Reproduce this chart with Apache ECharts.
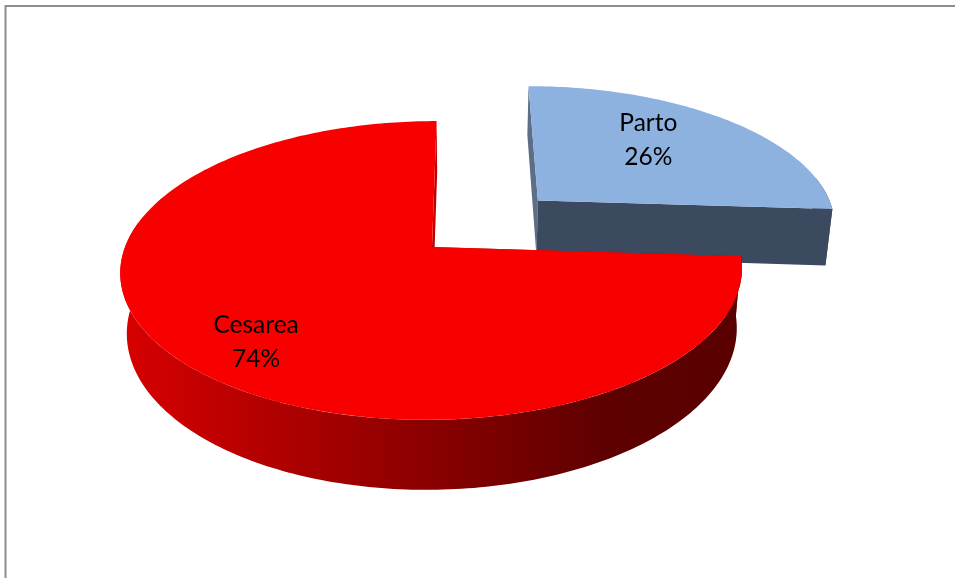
<!DOCTYPE html>
<html>
<head>
<meta charset="utf-8">
<title>Parto / Cesarea</title>
<script src="https://cdn.jsdelivr.net/npm/echarts@6/dist/echarts.min.js"></script>
<style>
  html, body { margin: 0; padding: 0; background: #ffffff; }
  #chart { width: 955px; height: 578px; }
</style>
</head>
<body>
<div id="chart"></div>
<script>
// ---- data ----
const categories = ['Parto', 'Cesarea'];
const values = [26, 74];

// ---- look of each slice ----
const sliceStyle = {
  Parto:   { top: '#8db2df', side: '#3b4a5e', edgeStart: '#5d6e86', edgeEnd: '#3b4a5e', explode: 0.49, labelR: 0.65 },
  Cesarea: { top: '#f80000', side: null,      edgeStart: '#b80000', edgeEnd: '#c00000', explode: 0,    labelR: 0.78 }
};
// Cesarea rim shading, bright on the left to dark on the right
const rimStops = [
  { offset: 0, color: '#d80000' },
  { offset: 0.78, color: '#5e0000' },
  { offset: 1, color: '#5a0000' }
];

// ---- 3D pie layout (pixels) ----
const CX = 432;           // apex of the pie on screen
const CY = 247;
const R = 307;            // horizontal radius
const HORIZON = CY - 928; // vanishing line for the tilted plane
const VX = 466;           // horizontal vanishing point
const PERSP = 0.157;      // depth foreshortening per radius
const THICK = 59;         // thickness of the disc
const TAPER = 0.981;      // bottom rim pulled in toward VX
const LABEL_TURN = -6 * Math.PI / 180;

const total = values.reduce((a, b) => a + b, 0);

// (X, Z) are coordinates on the pie plane, radius 1; Z grows away from the viewer
function project(X, Z, down) {
  const s = 1 / (1 + PERSP * Z);
  let x = VX + (CX - VX + R * X) * s;
  let y = HORIZON + (CY - HORIZON) * s + (down ? THICK * s : 0);
  if (down) x = VX + (x - VX) * TAPER;
  return [x, y];
}

const camX = (VX - CX) / R;
const camZ = -1 / PERSP;

function renderSlice(params, api) {
  const i = params.dataIndex;
  const name = categories[i];
  const st = sliceStyle[name];
  const v = api.value(0);
  let before = 0;
  for (let k = 0; k < i; k++) before += values[k];
  const a0 = before / total * Math.PI * 2;
  const a1 = (before + v) / total * Math.PI * 2;
  const mid = (a0 + a1) / 2;
  const ox = st.explode * Math.sin(mid);
  const oz = st.explode * Math.cos(mid);

  const pt = (ang, r, down) => project(ox + r * Math.sin(ang), oz + r * Math.cos(ang), down);
  const arc = (from, to, down) => {
    const pts = [];
    const n = Math.max(2, Math.ceil(Math.abs(to - from) / (Math.PI / 180)));
    for (let k = 0; k <= n; k++) pts.push(pt(from + (to - from) * k / n, 1, down));
    return pts;
  };

  const base = i * 10;
  const hidden = [];
  const shown = [];

  // radial walls
  const wall = (ang, normalAng, color) => {
    const mx = ox + 0.5 * Math.sin(ang), mz = oz + 0.5 * Math.cos(ang);
    const nx = Math.sin(normalAng), nz = Math.cos(normalAng);
    const facing = (camX - mx) * nx + (camZ - mz) * nz > 0;
    const el = {
      type: 'polygon',
      shape: { points: [pt(ang, 0, false), pt(ang, 1, false), pt(ang, 1, true), pt(ang, 0, true)] },
      style: { fill: color }
    };
    (facing ? shown : hidden).push(el);
  };
  wall(a0, a0 - Math.PI / 2, st.edgeStart);
  wall(a1, a1 + Math.PI / 2, st.edgeEnd);

  // outer rim, front part only
  const lo = Math.max(a0, 80 * Math.PI / 180);
  const hi = Math.min(a1, 280 * Math.PI / 180);
  const rim = [];
  if (hi > lo) {
    const pts = arc(lo, hi, false).concat(arc(lo, hi, true).reverse());
    rim.push({
      type: 'polygon',
      shape: { points: pts },
      style: {
        fill: st.side ? st.side : { type: 'linear', x: 0, y: 0, x2: 1, y2: 0, colorStops: rimStops }
      }
    });
  }

  const top = {
    type: 'polygon',
    shape: { points: [pt(a0, 0, false)].concat(arc(a0, a1, false)) },
    style: { fill: st.top }
  };

  const lp = pt(mid + LABEL_TURN, st.labelR, false);
  const label = {
    type: 'text',
    x: lp[0],
    y: lp[1],
    style: {
      text: name + '\n' + Math.round(v / total * 100) + '%',
      fill: '#000000',
      fontFamily: 'Lato',
      fontSize: 24.5,
      lineHeight: 34,
      align: 'center',
      verticalAlign: 'middle'
    }
  };

  const children = hidden.concat(rim, shown, [top, label]);
  children.forEach((c, k) => { c.z2 = base + k; });
  return { type: 'group', children: children };
}

const chart = echarts.init(document.getElementById('chart'), null, { renderer: 'canvas' });
chart.setOption({
  animation: false,
  backgroundColor: '#ffffff',
  graphic: [{
    type: 'rect',
    shape: { x: 5.5, y: 6, width: 1000, height: 700 },
    style: { fill: 'none', stroke: '#8e8e8e', lineWidth: 2 },
    silent: true,
    z: 0
  }],
  series: [{
    type: 'custom',
    coordinateSystem: 'none',
    silent: true,
    renderItem: renderSlice,
    data: categories.map((c, k) => ({ name: c, value: values[k] }))
  }]
});
</script>
</body>
</html>
